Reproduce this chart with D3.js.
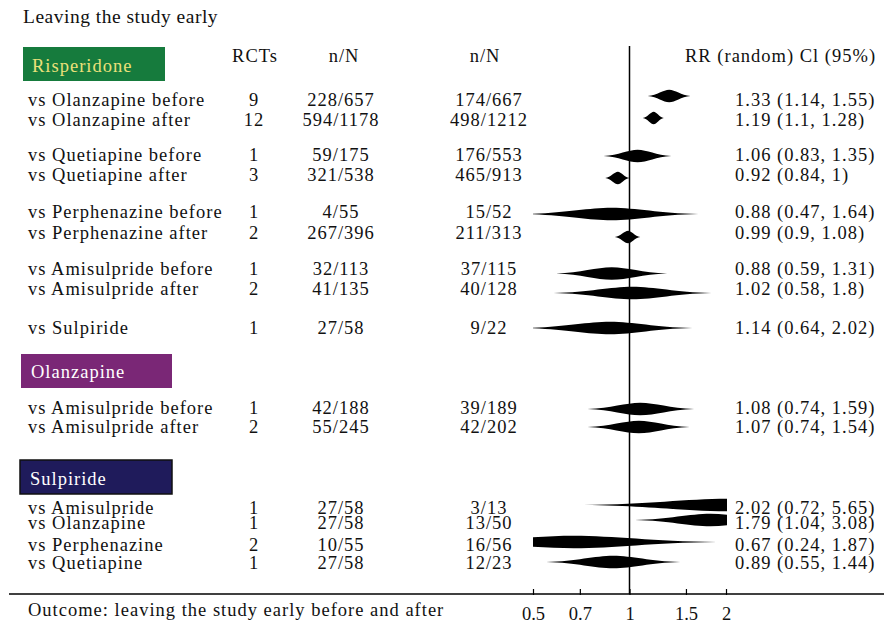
<!DOCTYPE html>
<html>
<head>
<meta charset="utf-8">
<script src="https://cdn.jsdelivr.net/npm/d3@7/dist/d3.min.js"></script>
<style>
  html, body { margin: 0; padding: 0; background: #fff; }
  svg { display: block; }
  text { font-family: "Liberation Serif", "Times New Roman", serif; fill: #111; }
</style>
</head>
<body>
<svg id="chart" width="884" height="623"></svg>
<script>
// ---------------- data ----------------
const title = "Leaving the study early";
const footnote = "Outcome: leaving the study early before and after";
const headers = ["RCTs", "n/N", "n/N", "RR (random) Cl (95%)"];
const groupNames = ["Risperidone", "Olanzapine", "Sulpiride"];
const rowGroup = [0, 0, 0, 0, 0, 0, 0, 0, 0, 1, 1, 2, 2, 2, 2];
const comparisons = [
  "vs Olanzapine before", "vs Olanzapine after",
  "vs Quetiapine before", "vs Quetiapine after",
  "vs Perphenazine before", "vs Perphenazine after",
  "vs Amisulpride before", "vs Amisulpride after",
  "vs Sulpiride",
  "vs Amisulpride before", "vs Amisulpride after",
  "vs Amisulpride", "vs Olanzapine", "vs Perphenazine", "vs Quetiapine"
];
const rcts = [9, 12, 1, 3, 1, 2, 1, 2, 1, 1, 2, 1, 1, 2, 1];
const nN1 = ["228/657", "594/1178", "59/175", "321/538", "4/55", "267/396", "32/113", "41/135",
             "27/58", "42/188", "55/245", "27/58", "27/58", "10/55", "27/58"];
const nN2 = ["174/667", "498/1212", "176/553", "465/913", "15/52", "211/313", "37/115", "40/128",
             "9/22", "39/189", "42/202", "3/13", "13/50", "16/56", "12/23"];
const rrText = [1.33, 1.19, 1.06, 0.92, 0.88, 0.99, 0.88, 1.02, 1.14, 1.08, 1.07, 2.02, 1.79, 0.67, 0.89];
const ciLowText = [1.14, 1.1, 0.83, 0.84, 0.47, 0.9, 0.59, 0.58, 0.64, 0.74, 0.74, 0.72, 1.04, 0.24, 0.55];
const ciHighText = [1.55, 1.28, 1.35, 1, 1.64, 1.08, 1.31, 1.8, 2.02, 1.59, 1.54, 5.65, 3.08, 1.87, 1.44];
// diamond values as drawn in the picture (the "vs Sulpiride" diamond is drawn left of its label values)
const diamondMid = [1.33, 1.19, 1.06, 0.92, 0.88, 0.99, 0.88, 1.02, 0.87, 1.08, 1.07, 2.02, 1.79, 0.67, 0.89];
const diamondLow = [1.14, 1.1, 0.83, 0.84, 0.47, 0.9, 0.59, 0.58, 0.47, 0.74, 0.74, 0.72, 1.04, 0.24, 0.55];
const diamondHigh = [1.55, 1.28, 1.35, 1, 1.64, 1.08, 1.31, 1.8, 1.57, 1.59, 1.54, 5.65, 3.08, 1.87, 1.44];
const xTicks = [0.5, 0.7, 1, 1.5, 2];

// ---------------- layout ----------------
const W = 884, H = 623;
const FS = 18.5, LS = 1;
const rowCenters = [100, 120, 155, 175, 212, 233, 268.5, 289, 328, 408, 427, 508, 523, 545, 563];
const diamondShift = [-4, -2, 1, 3, 2, 4, 5, 4, 0, 1, 0, -3, -3, -3, -1];
const groupBoxes = [
  { x: 23, y: 47, w: 142, h: 34, fill: "#167b3d", text: "#ebe07a", stroke: "none", tx: 32, ty: 71.5 },
  { x: 21, y: 354, w: 151, h: 34, fill: "#7a2776", text: "#ffffff", stroke: "none", tx: 31, ty: 378 },
  { x: 20, y: 460, w: 152, h: 34, fill: "#1f1b5b", text: "#ffffff", stroke: "#111", tx: 30, ty: 485 }
];
const colRCT = 254, colN1 = 341, colN2 = 489, colCI = 735;
const axisY = 594, halfH = 6.3;

const svg = d3.select("#chart");

const x = d3.scaleLog().domain([0.5, 2]).range([533, 726]);
const y = d3.scaleOrdinal().domain(d3.range(comparisons.length)).range(rowCenters);

// title
svg.append("text").attr("x", 23).attr("y", 23)
  .style("font-size", "19.5px").style("letter-spacing", "0.5px").text(title);

// headers
const hdrX = [colRCT + 1, 344, 485];
svg.selectAll("text.hdr").data(headers.slice(0, 3)).join("text")
  .attr("class", "hdr")
  .attr("x", (d, i) => hdrX[i]).attr("y", 62)
  .attr("text-anchor", "middle")
  .style("font-size", FS + "px").style("letter-spacing", LS + "px")
  .text(d => d);
svg.append("text").attr("x", 685).attr("y", 62)
  .style("font-size", FS + "px").style("letter-spacing", LS + "px")
  .text(headers[3]);

// group boxes
const gb = svg.selectAll("g.group").data(groupNames).join("g").attr("class", "group");
gb.append("rect")
  .attr("x", (d, i) => groupBoxes[i].x).attr("y", (d, i) => groupBoxes[i].y)
  .attr("width", (d, i) => groupBoxes[i].w).attr("height", (d, i) => groupBoxes[i].h)
  .attr("fill", (d, i) => groupBoxes[i].fill)
  .attr("stroke", (d, i) => groupBoxes[i].stroke)
  .attr("stroke-width", 1.5);
gb.append("text")
  .attr("x", (d, i) => groupBoxes[i].tx).attr("y", (d, i) => groupBoxes[i].ty)
  .style("fill", (d, i) => groupBoxes[i].text)
  .style("font-size", FS + "px").style("letter-spacing", LS + "px")
  .text(d => d);

// rows
const rows = svg.selectAll("g.row").data(d3.range(comparisons.length)).join("g")
  .attr("class", "row")
  .attr("transform", i => `translate(0,${y(i) + 6.2})`)
  .style("font-size", FS + "px").style("letter-spacing", LS + "px");
rows.append("text").attr("x", 28).text(i => comparisons[i]);
rows.append("text").attr("x", colRCT).attr("text-anchor", "middle").text(i => rcts[i]);
rows.append("text").attr("x", colN1).attr("text-anchor", "middle").text(i => nN1[i]);
rows.append("text").attr("x", colN2).attr("text-anchor", "middle").text(i => nN2[i]);
rows.append("text").attr("x", colCI)
  .text(i => `${rrText[i]} (${ciLowText[i]}, ${ciHighText[i]})`);

// diamonds (clipped to axis range)
svg.append("clipPath").attr("id", "plotclip")
  .append("rect").attr("x", x(0.5)).attr("y", 0)
  .attr("width", x(2) - x(0.5) + 1).attr("height", H);

function diamondPath(i) {
  const lo = x(diamondLow[i]), mid = x(diamondMid[i]), hi = x(diamondHigh[i]);
  const cy = y(i) + diamondShift[i], h = halfH;
  const dl = mid - lo, dr = hi - mid;
  // concave "spindle" sides: thin tails, full body near the estimate
  return `M${lo},${cy}` +
    `C${lo + 0.45 * dl},${cy - 0.12 * h} ${mid - 0.28 * dl},${cy - h} ${mid},${cy - h}` +
    `C${mid + 0.28 * dr},${cy - h} ${hi - 0.45 * dr},${cy - 0.12 * h} ${hi},${cy}` +
    `C${hi - 0.45 * dr},${cy + 0.12 * h} ${mid + 0.28 * dr},${cy + h} ${mid},${cy + h}` +
    `C${mid - 0.28 * dl},${cy + h} ${lo + 0.45 * dl},${cy + 0.12 * h} ${lo},${cy}Z`;
}
svg.append("g").attr("clip-path", "url(#plotclip)")
  .selectAll("path").data(d3.range(comparisons.length)).join("path")
  .attr("d", diamondPath)
  .attr("fill", "#000");

// reference line at RR = 1
svg.append("line")
  .attr("x1", x(1)).attr("x2", x(1)).attr("y1", 46).attr("y2", axisY)
  .attr("stroke", "#000").attr("stroke-width", 1.5);

// bottom rule / axis
svg.append("line")
  .attr("x1", 9).attr("x2", W).attr("y1", axisY).attr("y2", axisY)
  .attr("stroke", "#000").attr("stroke-width", 1.5);

const axis = d3.axisBottom(x).tickValues(xTicks)
  .tickFormat(d => String(d)).tickSizeInner(-4).tickSizeOuter(0).tickPadding(13);
const ag = svg.append("g").attr("transform", `translate(0,${axisY})`).call(axis);
ag.select(".domain").remove();
ag.selectAll(".tick line").attr("stroke", "#000").attr("stroke-width", 1.2).attr("y2", -5).attr("y1", 1);
ag.selectAll(".tick text")
  .style("font-family", "'Liberation Serif', 'Times New Roman', serif")
  .style("font-size", FS + "px").attr("fill", "#111");

// footnote
svg.append("text").attr("x", 28).attr("y", 616)
  .style("font-size", FS + "px").style("letter-spacing", LS + "px")
  .text(footnote);
</script>
</body>
</html>
